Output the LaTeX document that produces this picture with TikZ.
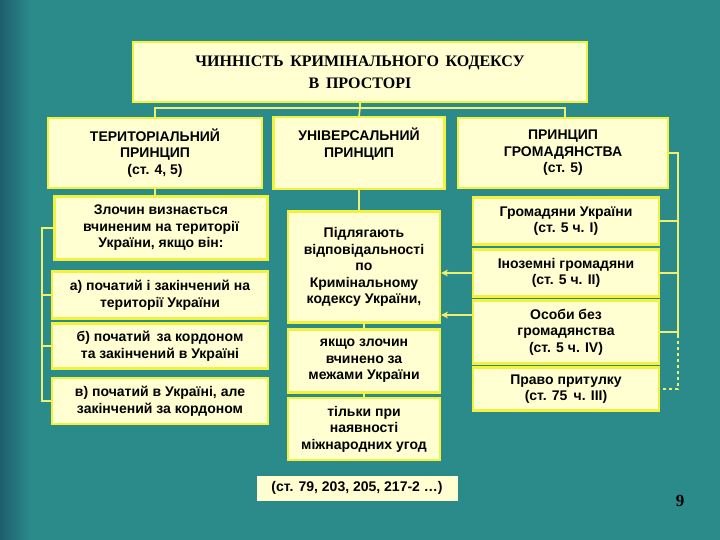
\documentclass[tikz,border=0pt]{standalone}
\usepackage{fontspec}
\setmainfont{Liberation Sans}
\newfontfamily\serifb{Liberation Serif}
\usetikzlibrary{arrows.meta}
\definecolor{bg}{HTML}{2B8B8A}
\definecolor{bgd}{HTML}{1F5E6E}
\definecolor{bx}{HTML}{FFFFD2}
\definecolor{bd}{HTML}{F2F23C}
\definecolor{ln}{HTML}{F0F070}
\tikzset{
 bxs/.style={draw=bd,line width=2.2pt,fill=bx,align=center,font=\bfseries\fontsize{14}{16.5}\selectfont,inner sep=0pt},
 cn/.style={draw=ln,line width=1.6pt},
 ar/.style={cn,-{Stealth[length=7pt,width=7pt]}}
}
\begin{document}
\begin{tikzpicture}[x=1pt,y=-1pt]
\useasboundingbox (0,0) rectangle (720,540);
\fill[bg] (0,0) rectangle (720,540);
\shade[left color=bgd,right color=bg] (0,0) rectangle (30,540);
\node[bxs,minimum width=454,minimum height=60,font=\serifb\bfseries\fontsize{16}{22}\selectfont] (t) at (360,72) {ЧИННІСТЬ\, КРИМІНАЛЬНОГО\, КОДЕКСУ\\В\, ПРОСТОРІ};
\node[bxs,minimum width=214,minimum height=70] (ter) at (155,153) {ТЕРИТОРІАЛЬНИЙ\\ПРИНЦИП\\(ст. 4, 5)};
\node[bxs,minimum width=171,minimum height=72,anchor=north] (uni) at (359,116) {\raisebox{0pt}{}\\[-8pt]УНІВЕРСАЛЬНИЙ\\ПРИНЦИП\\~};
\node[bxs,minimum width=210,minimum height=70] (grom) at (563,153) {ПРИНЦИП\\ГРОМАДЯНСТВА\\(ст. 5)};
\node[bxs,minimum width=213,minimum height=63] (zl) at (161,228) {Злочин визнається\\вчиненим на території\\України, якщо він:};
\node[bxs,minimum width=216,minimum height=47] (a) at (160,295) {а) початий і закінчений на\\території України};
\node[bxs,minimum width=216,minimum height=45] (b) at (160,346) {б) початий\, за кордоном\\та закінчений в Україні};
\node[bxs,minimum width=216,minimum height=46] (c) at (160,401) {в) початий в Україні, але\\закінчений за кордоном};
\node[bxs,minimum width=152,minimum height=111] (p) at (364,267) {Підлягають\\відповідальності\\по\\Кримінальному\\кодексу України,};
\node[bxs,minimum width=152,minimum height=63] (y) at (364,361) {якщо злочин\\вчинено за\\межами України};
\node[bxs,minimum width=152,minimum height=62] (tl) at (364,429) {тільки при\\наявності\\міжнародних угод};
\node[bxs,draw=none,minimum width=201,minimum height=25] (st) at (357,488) {(ст. 79, 203, 205, 217-2 …)};
\node[bxs,minimum width=186,minimum height=47] (g1) at (566,221) {Громадяни України\\(ст. 5 ч. І)};
\node[bxs,minimum width=186,minimum height=47] (g2) at (566,273) {Іноземні громадяни\\(ст. 5 ч. ІІ)};
\node[bxs,minimum width=186,minimum height=63] (g3) at (566,332) {Особи без\\громадянства\\(ст. 5 ч. ІV)};
\node[bxs,minimum width=186,minimum height=43] (g4) at (566,389) {Право притулку\\(ст. 75\, ч. ІІІ)};
\node[font=\serifb\bfseries\fontsize{17}{18}\selectfont] (n9) at (680,501) {9};
\coordinate (hl) at (157,108); \coordinate (hr) at (565,108);
\draw[cn] (t.south) -- (360,108);
\draw[cn] (ter.north) |- (hl) -- (hr) -- (grom.north -| hr);
\draw[cn] (360,108) -- (uni.north);
\draw[cn] (ter.south) -- (zl.north -| ter.south);
\draw[cn] (zl.west) -- (42,228) -- (42,401) -- (c.west);
\draw[cn] (42,295) -- (a.west); \draw[cn] (42,346) -- (b.west);
\draw[cn] (uni.south) -- (p.north -| uni.south);
\draw[cn] (p.south) -- (y.north); \draw[cn] (y.south) -- (tl.north);
\draw[cn] (grom.east) -- (678,153) -- (678,335);
\draw[cn,dashed] (678,335) -- (678,389) -- (g4.east);
\draw[cn] (678,221) -- (g1.east); \draw[cn] (678,273) -- (g2.east); \draw[cn] (678,332) -- (g3.east);
\draw[ar] (g2.west) -- (p.east |- g2.west);
\draw[ar] (g3.west |- 0,315) -- (p.east |- 0,315);
\end{tikzpicture}
\end{document}
